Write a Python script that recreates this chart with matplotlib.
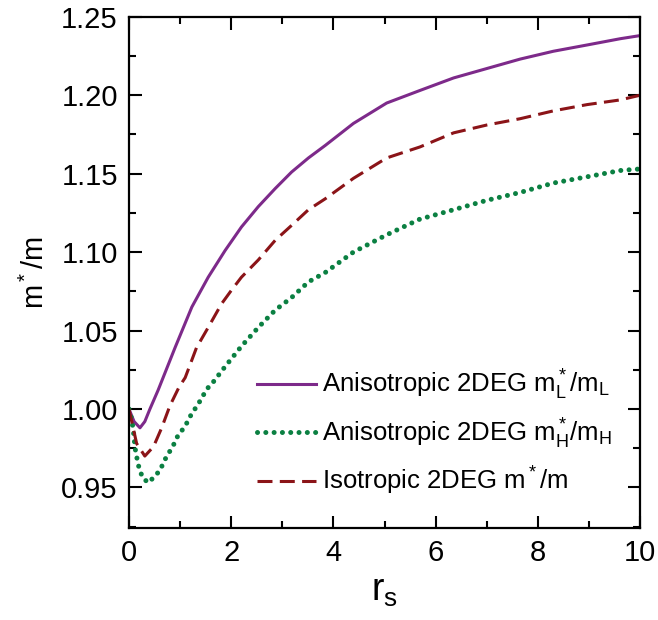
"""
Effective mass ratio m*/m versus r_s for anisotropic and isotropic 2DEG.
"""

import matplotlib
matplotlib.use('Agg')
import matplotlib.pyplot as plt
from matplotlib.ticker import MultipleLocator

plt.rcParams['font.family'] = ['Liberation Sans', 'DejaVu Sans']
plt.rcParams['mathtext.fontset'] = 'custom'
plt.rcParams['mathtext.rm'] = 'Liberation Sans'
plt.rcParams['mathtext.it'] = 'Liberation Sans'

# Anisotropic 2DEG, light mass direction
RS_L = [0, 0.1, 0.215, 0.31, 0.41, 0.57, 0.9, 1.23, 1.55, 1.88, 2.2, 2.53, 2.86,
        3.18, 3.51, 3.84, 4.39, 5.04, 5.69, 6.35, 7.0, 7.65, 8.3, 8.96, 9.61, 10]
M_L = [1.0, 0.992, 0.988, 0.992, 1.0, 1.012, 1.039, 1.065, 1.084, 1.101, 1.116,
       1.129, 1.1405, 1.151, 1.160, 1.168, 1.182, 1.195, 1.203, 1.211, 1.217,
       1.223, 1.228, 1.232, 1.236, 1.238]

# Anisotropic 2DEG, heavy mass direction
RS_H = [0, 0.04, 0.08, 0.12, 0.16, 0.2, 0.27, 0.38, 0.5, 0.61, 0.69, 0.78, 0.87,
        0.94, 1.03, 1.13, 1.21, 1.29, 1.37, 1.44, 1.53, 1.62, 1.88, 2.2, 2.53,
        2.86, 3.18, 3.51, 3.84, 4.39, 5.04, 5.69, 6.35, 7.0, 7.65, 8.3, 8.96,
        9.61, 10]
M_H = [1.0, 0.995, 0.988, 0.975, 0.968, 0.962, 0.956, 0.953, 0.957, 0.961, 0.967,
       0.972, 0.977, 0.982, 0.986, 0.991, 0.996, 1.0, 1.004, 1.008, 1.013, 1.016,
       1.027, 1.040, 1.052, 1.063, 1.071, 1.081, 1.087, 1.100, 1.111, 1.121,
       1.127, 1.133, 1.138, 1.144, 1.148, 1.152, 1.153]

# Isotropic 2DEG
RS_ISO = [0, 0.15, 0.31, 0.48, 0.64, 0.8, 0.98, 1.1, 1.32, 1.55, 1.81, 2.0, 2.2,
          2.53, 2.86, 3.18, 3.51, 3.84, 4.39, 5.04, 5.69, 6.35, 7.0, 7.65, 8.3,
          8.96, 9.61, 10]
M_ISO = [1.0, 0.978, 0.970, 0.976, 0.988, 1.002, 1.014, 1.020, 1.039, 1.052,
         1.067, 1.0755, 1.084, 1.095, 1.1075, 1.117, 1.127, 1.134, 1.147, 1.160,
         1.167, 1.176, 1.181, 1.185, 1.190, 1.194, 1.197, 1.200]

LABELS = [r'Anisotropic 2DEG m$^*_\mathregular{L}$/m$_\mathregular{L}$',
          r'Anisotropic 2DEG m$^*_\mathregular{H}$/m$_\mathregular{H}$',
          r'Isotropic 2DEG m$^*$/m']


def main():
    fig = plt.figure(figsize=(6.58, 6.2), dpi=100)
    ax = fig.add_axes([0.196, 0.148, 0.777, 0.825])

    ax.plot(RS_L, M_L, color='#7d2a8a', linewidth=2.2, label=LABELS[0])
    ax.plot(RS_H, M_H, color='#0b8042', linewidth=3.6,
            linestyle=(0, (0.01, 1.65)), dash_capstyle='round', label=LABELS[1])
    ax.plot(RS_ISO, M_ISO, color='#8b1418', linewidth=2.2,
            linestyle=(0, (4.9, 2.4)), label=LABELS[2])

    ax.set_xlim(0, 10)
    ax.set_ylim(0.924, 1.25)
    ax.xaxis.set_major_locator(MultipleLocator(2))
    ax.xaxis.set_minor_locator(MultipleLocator(1))
    ax.yaxis.set_major_locator(MultipleLocator(0.05))
    ax.yaxis.set_minor_locator(MultipleLocator(0.025))
    ax.yaxis.set_major_formatter(plt.FormatStrFormatter('%.2f'))

    ax.tick_params(which='both', direction='in', top=True, right=True,
                   labelsize=21, width=1.5)
    ax.tick_params(which='major', length=9, pad=8)
    ax.tick_params(which='minor', length=5)
    for sp in ax.spines.values():
        sp.set_linewidth(1.6)

    ax.set_xlabel(r'r$_\mathregular{s}$', fontsize=27, labelpad=4)
    ax.set_ylabel(r'm$^*$/m', fontsize=21, labelpad=8)

    ax.legend(loc='lower left', bbox_to_anchor=(0.251, 0.061), frameon=False,
              fontsize=18.5, borderpad=0, borderaxespad=0, handlelength=2.3,
              handletextpad=0.2, labelspacing=0.55)

    fig.savefig('out.png', dpi=100)
    plt.close(fig)


if __name__ == "__main__":
    main()
